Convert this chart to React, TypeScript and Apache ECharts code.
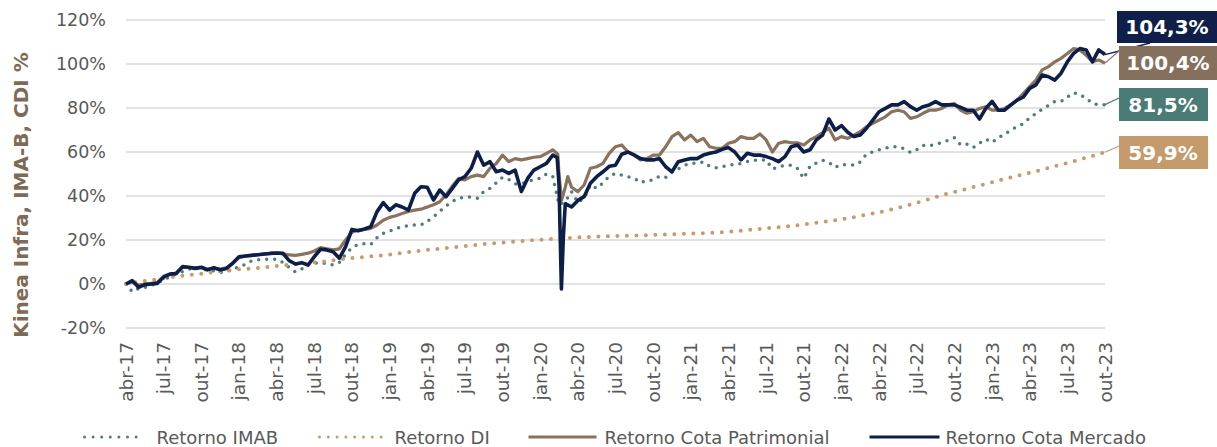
import React, { useEffect, useRef } from "react";
import * as echarts from "echarts";

const FONT = '"DejaVu Sans", Verdana, sans-serif';

const TICK_LABELS = [
  "abr-17", "jul-17", "out-17", "jan-18", "abr-18", "jul-18", "out-18", "jan-19", "abr-19",
  "jul-19", "out-19", "jan-20", "abr-20", "jul-20", "out-20", "jan-21", "abr-21", "jul-21",
  "out-21", "jan-22", "abr-22", "jul-22", "out-22", "jan-23", "abr-23", "jul-23", "out-23",
];

const SERIES_NAMES = ["Retorno IMAB", "Retorno DI", "Retorno Cota Patrimonial", "Retorno Cota Mercado"];

// Half-month samples (abr-17 = 0)
const MERCADO = [
  0, 1.5, -1.5, -0.3, 0, 0.3, 3.3, 4.5, 4.8, 7.9,
  7.6, 7.1, 7.6, 6.4, 7.4, 6.4, 7.1, 9.4, 12.4, 12.7,
  13, 13.3, 13.6, 13.9, 14.1, 13.9, 10.6, 9.1, 9.7, 8.6,
  12.4, 15.8, 15.5, 14.7, 11.7, 17, 24.8, 24.2, 25, 26,
  32.9, 37, 33.6, 36, 35, 33.6, 41.2, 44.2, 44, 38.2,
  42.7, 39.7, 43.5, 47.3, 48.8, 52.6, 60, 54, 55.6, 51,
  51.8, 50.3, 51.8, 42, 48, 51.8, 53.3, 54.8, 58.6, 45,
  36.5, 35, 38, 39.7, 45.8, 48.8, 51, 53.5, 54, 59,
  60, 58.6, 57, 56.4, 56.4, 57, 53.3, 51, 55.6, 56.4,
  57, 57, 58.6, 59.4, 60, 61.2, 62, 60, 56.4, 59.4,
  58.6, 58.6, 57.9, 57, 55.6, 57.9, 62.4, 63.2, 60, 61,
  65.5, 67.7, 75, 70, 72, 69, 67, 67.7, 70.8, 74.5,
  78.3, 79.8, 81.4, 81.4, 82.9, 80.6, 79, 80.6, 81.4, 82.9,
  81.4, 81.4, 81.4, 80.3, 79, 79, 75, 79.8, 83, 79,
  79, 81.4, 83.6, 85, 88.9, 90.5, 95, 94.2, 92.7, 95.8,
  101, 104.8, 107, 106.4, 101, 106.4, 104.3,
];
const MERCADO_EXTRA_T = [34.35, 34.69, 34.85];
const MERCADO_EXTRA = [57.5, -2.3, 22];

const PATRIMONIAL = [
  0, 1, -0.5, 0, 0.3, 0.8, 3, 4.5, 5, 7.5,
  7.5, 7.3, 7.5, 6.8, 7.2, 6.8, 7.3, 9.5, 12, 12.6,
  13, 13.3, 13.6, 13.9, 14, 13.8, 13.2, 13, 13.5, 14,
  15, 16.5, 16, 15.5, 16, 20, 23.5, 24.5, 24.8, 25.3,
  26.8, 29, 30.3, 31, 32, 33, 33.6, 34, 35, 36,
  37.4, 40.5, 44.5, 48, 47.3, 48.8, 49.5, 48.8, 52.6, 54.8,
  58.6, 55.6, 57, 56.4, 57, 57.6, 57.9, 59.4, 61, 50,
  44, 44, 42, 45, 52.6, 53.3, 54.8, 59.4, 62.4, 63.2,
  60, 58.6, 56.4, 57, 58.6, 58.6, 62.4, 67, 68.8, 65.5,
  67.7, 64.7, 66.2, 62.4, 61.7, 61.7, 64, 64.7, 67, 66.2,
  66.2, 68.2, 65.5, 60, 64, 64.7, 64.2, 64.2, 63.2, 65.5,
  67, 68.8, 70.8, 65.5, 67, 66.2, 67.7, 69.2, 71.5, 73,
  74.5, 76, 78.3, 79, 78.3, 75.3, 76, 77.6, 79, 79,
  79.8, 81.4, 82, 79, 77.6, 78.3, 79.8, 80.6, 79, 79,
  79.8, 81.4, 83.6, 86.7, 89.7, 92.7, 97.3, 98.8, 101, 102.6,
  104.8, 107, 106.4, 104, 101, 101.8, 100.4,
];
const PATRIMONIAL_EXTRA_T = [34.4, 34.7, 35.2];
const PATRIMONIAL_EXTRA = [59, 38, 48.8];

const IMAB = [
  0, -3.5, -2, -1.5, -0.8, 0.5, 2, 3.3, 4.5, 5.6,
  6.8, 7, 7, 6.2, 6, 5.3, 5.8, 6.4, 8, 8.8,
  10.5, 11, 11.2, 11.2, 11.3, 9.8, 7.5, 5.5, 6.8, 9,
  9.5, 9.7, 9.2, 8.6, 9.8, 13.5, 16.5, 18, 18.3, 18,
  21, 23, 24, 25.2, 26, 26.6, 26.8, 26.8, 28.5, 30.5,
  33, 35.5, 37.5, 39, 39.5, 39.5, 39, 42, 43.5, 46,
  48.5, 47.5, 45.5, 45.5, 46.5, 47.5, 48, 50, 49, 36,
  37.5, 42, 37, 39, 45, 43.5, 46, 49, 50.3, 49.5,
  48.7, 48, 46, 47, 47.3, 49, 48.5, 51, 52.3, 54,
  54.8, 55, 55.5, 53.5, 52.8, 53.3, 54, 54.3, 54.8, 55.6,
  56.2, 56.4, 56.4, 52.3, 53.3, 53.8, 54, 52.5, 48, 53.5,
  55, 56.2, 55.3, 53, 54.3, 54.2, 54, 55.5, 59, 60,
  61, 61.8, 62.3, 62.4, 61.5, 59.8, 61, 63, 62.8, 63.5,
  64.3, 65.3, 66.5, 63.2, 63.5, 62, 64, 65.8, 64.3, 66.5,
  68, 70, 71.5, 72.8, 75.5, 77.5, 79.5, 81.2, 83, 83,
  85, 87, 86, 84.5, 82, 81.4, 81.5,
];

// Monthly samples
const DI = [
  0, 1.0, 1.7, 2.6, 3.5, 4.0, 4.7, 5.4, 6.1, 6.7,
  7.0, 7.6, 8.2, 8.7, 9.2, 9.7, 10.4, 11.2, 11.8, 12.3,
  12.8, 13.4, 14.1, 14.8, 15.5, 16.0, 16.6, 17.2, 17.8, 18.4,
  18.8, 19.3, 19.8, 20.1, 20.5, 20.8, 21.2, 21.4, 21.7, 21.8,
  21.9, 22.1, 22.3, 22.5, 22.7, 22.9, 23.1, 23.4, 23.7, 24.2,
  24.8, 25.3, 25.8, 26.4, 27.1, 27.8, 28.6, 29.4, 30.4, 31.5,
  32.6, 33.9, 35.4, 36.9, 38.6, 40.4, 41.8, 43.3, 44.8, 46.2,
  47.8, 49.2, 50.6, 52.0, 53.5, 55.0, 56.6, 58.2, 59.9,
];

const COLORS = ["#4b7f7b", "#c99a6b", "#8a735e", "#0d1e48"];
const BOX_COLORS = ["#4a7b77", "#c59a6c", "#84705c", "#0f1f4a"];

// label boxes (layout), indexed by series
const BOXES = [
  { s: 3, x: 1117, y: 11, w: 110, h: 32, tx: 1167, lx: 1150, ly: 43 },
  { s: 2, x: 1119, y: 46, w: 110, h: 34, tx: 1168, lx: 1119, ly: 51 },
  { s: 0, x: 1119, y: 88, w: 89, h: 33, tx: 1163, lx: 1119, ly: 98 },
  { s: 1, x: 1119, y: 136, w: 89, h: 33, tx: 1163, lx: 1119, ly: 146 },
];

// legend layout per series
const LEGEND_POS = [
  { left: 78, w: 60, pad: 7 },
  { left: 313, w: 62, pad: 8 },
  { left: 522, w: 68, pad: 3 },
  { left: 863, w: 70, pad: 1 },
];

function toPairs(values: number[], step: number, extraT: number[] = [], extraV: number[] = []) {
  const pts: number[][] = values.map((v, i) => [i * step, v]);
  extraT.forEach((t, i) => pts.push([t, extraV[i]]));
  pts.sort((a, b) => a[0] - b[0]);
  return pts;
}

export default function App() {
  const ref = useRef<HTMLDivElement>(null);
  useEffect(() => {
    if (!ref.current) return;
    const chart = echarts.init(ref.current, undefined, { renderer: "svg" });
    const data = [
      toPairs(IMAB, 0.5),
      toPairs(DI, 1),
      toPairs(PATRIMONIAL, 0.5, PATRIMONIAL_EXTRA_T, PATRIMONIAL_EXTRA),
      toPairs(MERCADO, 0.5, MERCADO_EXTRA_T, MERCADO_EXTRA),
    ];
    const lineStyles: any[] = [
      { color: COLORS[0], width: 3.5, type: [0, 8], cap: "round" },
      { color: COLORS[1], width: 4, type: [0, 9.5], cap: "round" },
      { color: COLORS[2], width: 3.2, join: "round" },
      { color: COLORS[3], width: 3.6, join: "round" },
    ];
    const legendLineStyles: any[] = [
      { color: COLORS[0], width: 3, type: [0, 8.6], cap: "round" },
      { color: COLORS[1], width: 3, type: [0, 8.8], cap: "round" },
      { color: COLORS[2], width: 3, type: "solid" },
      { color: COLORS[3], width: 3, type: "solid" },
    ];
    chart.setOption({
      animation: false,
      backgroundColor: "#ffffff",
      grid: { left: 126, right: 112, top: 20, bottom: 119, containLabel: false },
      xAxis: {
        type: "value",
        min: 0,
        max: 78,
        interval: 3,
        axisLine: { show: false },
        axisTick: { show: false },
        splitLine: { show: false },
        axisLabel: {
          rotate: 90,
          margin: 14,
          showMinLabel: true,
          showMaxLabel: true,
          color: "#595959",
          fontSize: 18.5,
          fontFamily: FONT,
          formatter: (v: number) => TICK_LABELS[Math.round(v / 3)] ?? "",
        },
      },
      yAxis: {
        type: "value",
        min: -20,
        max: 120,
        interval: 20,
        axisLine: { show: false },
        axisTick: { show: false },
        splitLine: { lineStyle: { color: "#d9d9d9", width: 1.5 } },
        axisLabel: {
          margin: 20,
          color: "#595959",
          fontSize: 17.5,
          fontFamily: FONT,
          formatter: "{value}%",
        },
      },
      legend: SERIES_NAMES.map((name, i) => ({
        left: LEGEND_POS[i].left,
        top: 423,
        itemWidth: LEGEND_POS[i].w,
        itemHeight: 12,
        data: [name],
        itemStyle: { opacity: 0 },
        lineStyle: legendLineStyles[i],
        textStyle: {
          color: "#595959",
          fontSize: 18,
          fontFamily: FONT,
          padding: [0, 0, 0, LEGEND_POS[i].pad],
        },
      })),
      series: SERIES_NAMES.map((name, i) => ({
        name,
        type: "line",
        data: data[i],
        symbol: "none",
        showSymbol: false,
        smooth: false,
        color: COLORS[i],
        lineStyle: lineStyles[i],
        z: 2 + i,
      })),
    });

    const graphics: any[] = [
      {
        type: "text",
        x: 21,
        y: 195,
        rotation: Math.PI / 2,
        style: {
          text: "Kinea Infra, IMA-B, CDI %",
          textAlign: "center",
          textVerticalAlign: "middle",
          fill: "#7f6a55",
          font: `bold 20px ${FONT}`,
        },
      },
    ];
    BOXES.forEach((b) => {
      const series = data[b.s];
      const last = series[series.length - 1];
      const p = chart.convertToPixel({ xAxisIndex: 0, yAxisIndex: 0 }, last) as number[];
      graphics.push({
        type: "line",
        shape: { x1: p[0], y1: p[1], x2: b.lx, y2: b.ly },
        style: { stroke: COLORS[b.s], lineWidth: 1.3 },
        z: 10,
      });
      graphics.push({
        type: "rect",
        shape: { x: b.x, y: b.y, width: b.w, height: b.h },
        style: { fill: BOX_COLORS[b.s] },
        z: 11,
      });
      graphics.push({
        type: "text",
        x: b.tx,
        y: b.y + b.h / 2,
        style: {
          text: last[1].toFixed(1).replace(".", ",") + "%",
          textAlign: "center",
          textVerticalAlign: "middle",
          fill: "#ffffff",
          font: `bold 20px ${FONT}`,
        },
        z: 12,
      });
    });
    chart.setOption({ graphic: graphics });

    return () => chart.dispose();
  }, []);
  return (
    <div
      ref={ref}
      style={{ position: "fixed", left: 0, top: 0, width: 1217, height: 447, background: "#fff" }}
    />
  );
}
